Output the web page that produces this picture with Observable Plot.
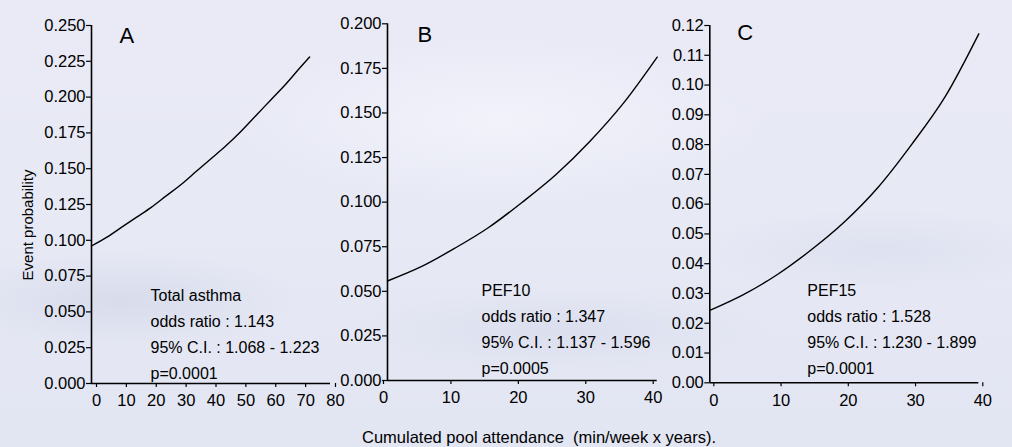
<!DOCTYPE html>
<html>
<head>
<meta charset="utf-8">
<script src="https://cdn.jsdelivr.net/npm/d3@7"></script>
<script src="https://cdn.jsdelivr.net/npm/@observablehq/plot@0.6"></script>
<style>
  html, body { margin: 0; padding: 0; }
  #wrap {
    position: relative; width: 1012px; height: 447px; overflow: hidden;
    font-family: "Liberation Sans", Arial, sans-serif; color: #000;
    background:
      radial-gradient(ellipse 260px 70px at 120px 300px, rgba(205,210,228,0.55), rgba(205,210,228,0) 70%),
      radial-gradient(ellipse 300px 60px at 560px 330px, rgba(210,214,232,0.5), rgba(210,214,232,0) 70%),
      radial-gradient(ellipse 260px 60px at 880px 250px, rgba(212,216,234,0.45), rgba(212,216,234,0) 70%),
      radial-gradient(ellipse 380px 120px at 500px 120px, rgba(245,246,252,0.7), rgba(245,246,252,0) 70%),
      linear-gradient(180deg, #e9eaf6 0%, #e7e9f5 50%, #e2e5f2 100%);
  }
  .panel { position: absolute; top: 0; }
  .panel svg { overflow: visible; }
  #ylab { position: absolute; left: 27px; top: 225px; transform: translate(-50%, -50%) rotate(-90deg); font-size: 15px; white-space: nowrap; }
  #xlab { position: absolute; left: 539px; top: 437px; transform: translate(-50%, -50%); font-size: 16.5px; white-space: pre; }
</style>
</head>
<body>
<div id="wrap">
  <div id="pA" class="panel" style="left:0px"></div>
  <div id="pB" class="panel" style="left:340px"></div>
  <div id="pC" class="panel" style="left:670px"></div>
  <div id="ylab">Event probability</div>
  <div id="xlab">Cumulated pool attendance  (min/week x years).</div>
</div>
<script>
// ---- data ----
const xA = [0, 5, 10, 15, 20, 25, 30, 35, 40, 45, 50, 55, 60, 65, 70, 73];
const pA = [0.096, 0.102, 0.109, 0.116, 0.123, 0.131, 0.139, 0.148, 0.157, 0.166, 0.176, 0.187, 0.198, 0.209, 0.221, 0.228];

const xB = [0, 5, 10, 15, 20, 25, 30, 35, 40];
const pB = [0.0558, 0.0638, 0.0742, 0.0858, 0.1000, 0.1155, 0.1340, 0.1555, 0.1813];

const xC = [0, 5, 10, 15, 20, 25, 30, 35, 40];
const pC = [0.0243, 0.0296, 0.0363, 0.0445, 0.0540, 0.0656, 0.0800, 0.0961, 0.1172];

const yTicksA = [0, 0.025, 0.05, 0.075, 0.1, 0.125, 0.15, 0.175, 0.2, 0.225, 0.25];
const yTicksB = [0, 0.025, 0.05, 0.075, 0.1, 0.125, 0.15, 0.175, 0.2];
const yTicksC = [0, 0.01, 0.02, 0.03, 0.04, 0.05, 0.06, 0.07, 0.08, 0.09, 0.1, 0.11, 0.12];
const xTicksA = [0, 10, 20, 30, 40, 50, 60, 70, 80];
const xTicksBC = [0, 10, 20, 30, 40];

const letters = ["A", "B", "C"];
const statsA = ["Total asthma", "odds ratio : 1.143", "95% C.I. : 1.068 - 1.223", "p=0.0001"];
const statsB = ["PEF10", "odds ratio : 1.347", "95% C.I. : 1.137 - 1.596", "p=0.0005"];
const statsC = ["PEF15", "odds ratio : 1.528", "95% C.I. : 1.230 - 1.899", "p=0.0001"];

function panel(cfg) {
  const data = cfg.xs.map((x, i) => ({x, p: cfg.ps[i]}));
  return Plot.plot({
    width: cfg.width, height: 447,
    marginLeft: cfg.ml, marginRight: cfg.mr, marginTop: cfg.mt, marginBottom: cfg.mb,
    style: {background: "transparent", fontSize: "16.5px", fontFamily: "'Liberation Sans', Arial, sans-serif", color: "#000", overflow: "visible"},
    x: {domain: cfg.xdom, ticks: cfg.xticks},
    y: {domain: cfg.ydom, ticks: cfg.yticks},
    marks: [
      Plot.axisY({ticks: cfg.yticks, tickFormat: d3.format(cfg.yfmt), tickSize: 5, tickPadding: 1, label: null, strokeWidth: 1.2}),
      Plot.axisX({ticks: cfg.xticks, tickFormat: d => String(d), tickSize: 4, tickPadding: 7, label: null, dx: cfg.xdx, strokeWidth: 1.2}),
      Plot.ruleX([0], {stroke: "#000", strokeWidth: 1.6}),
      Plot.ruleY([0], {stroke: "#000", strokeWidth: 1.6}),
      Plot.line(data, {x: "x", y: "p", stroke: "#000", strokeWidth: 1.4, curve: "monotone-x"}),
      Plot.text([cfg.letter], {frameAnchor: "top-left", text: d => d, fontSize: 22, lineAnchor: "middle", dx: cfg.ldx, dy: cfg.ldy}),
      Plot.text([cfg.stats.join("\n")], {frameAnchor: "top-left", text: d => d, fontSize: 16, lineAnchor: "top", lineHeight: 1.62, textAnchor: "start", dx: cfg.sdx, dy: cfg.sdy})
    ]
  });
}

document.getElementById("pA").appendChild(panel({
  xs: xA, ps: pA, width: 340, ml: 91, mr: 10, mt: 25, mb: 64,
  xdom: [0, 80], ydom: [0, 0.25], xticks: xTicksA, yticks: yTicksA, yfmt: ".3f", xdx: 5,
  letter: letters[0], ldx: 28, ldy: 10, stats: statsA, sdx: 59, sdy: 257
}));
document.getElementById("pB").appendChild(panel({
  xs: xB, ps: pB, width: 330, ml: 47, mr: 13.3, mt: 23.3, mb: 67,
  xdom: [0, 40], ydom: [0, 0.2], xticks: xTicksBC, yticks: yTicksB, yfmt: ".3f", xdx: -4,
  letter: letters[1], ldx: 30, ldy: 11, stats: statsB, sdx: 94, sdy: 254
}));
document.getElementById("pC").appendChild(panel({
  xs: xC, ps: pC, width: 342, ml: 39.3, mr: 33.7, mt: 25, mb: 64.7,
  xdom: [0, 40], ydom: [0, 0.12], xticks: xTicksBC, yticks: yTicksC, yfmt: ".2f", xdx: 4,
  letter: letters[2], ldx: 27.5, ldy: 7, stats: statsC, sdx: 97.5, sdy: 252
}));
</script>
</body>
</html>
